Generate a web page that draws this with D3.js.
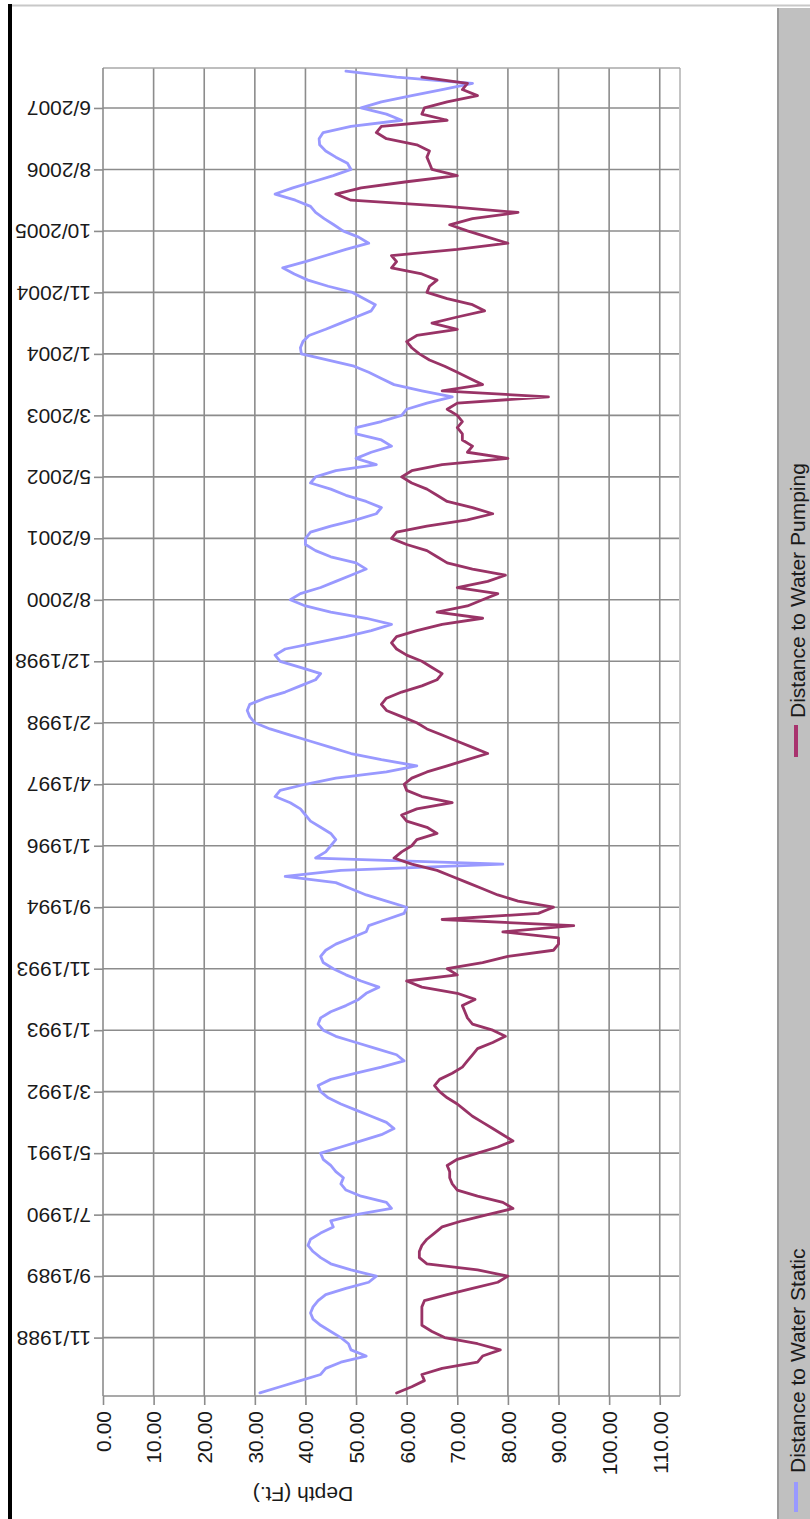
<!DOCTYPE html>
<html>
<head>
<meta charset="utf-8">
<script src="https://cdn.jsdelivr.net/npm/d3@7"></script>
<style>
  html, body { margin: 0; padding: 0; background: #fff; }
  svg { display: block; }
  text { font-family: "Liberation Sans", Arial, sans-serif; fill: #1a1a1a; }
</style>
</head>
<body>
<svg id="chart" width="810" height="1519"></svg>
<script>
// Category labels shown on the date axis (one every `labelEvery` readings)
const dateLabels = ["11/1988", "9/1989", "7/1990", "5/1991", "3/1992", "1/1993", "11/1993",
  "9/1994", "1/1996", "4/1997", "2/1998", "12/1998", "8/2000", "6/2001", "5/2002",
  "3/2003", "1/2004", "11/2004", "10/2005", "8/2006", "6/2007"];
const firstLabelIndex = 9;
const labelEvery = 10;

// Depth axis ticks (ft)
const depthTicks = [0, 10, 20, 30, 40, 50, 60, 70, 80, 90, 100, 110];
const depthMax = 114;

// Distance to water, static level (ft), one value per reading, oldest first
const staticDepth = [
  31, 35, 39, 43, 44, 47, 52, 49, 48.5, 47,
  45, 43, 41.5, 41, 41.5, 42.5, 44, 48, 52.5, 54,
  49, 45, 43, 41.5, 40.5, 41, 43, 45.5, 45, 50,
  57, 56, 51, 48, 47, 47.5, 46, 45, 43.5, 43,
  47, 51, 55, 57.5, 56, 53, 50, 47, 44.5, 43,
  42.5, 45, 50, 55, 59.5, 58, 54, 50, 46, 43.5,
  42.5, 43, 45, 48, 50.5, 52, 54.5, 51, 48, 45.5,
  43.5, 43, 44, 46, 49, 52, 52.5, 56, 59.5, 60,
  56, 52, 49, 46, 36, 47, 79, 42, 44, 45,
  46, 45, 43, 41, 40, 39, 37, 34, 35, 40,
  46, 56, 62, 55, 49, 45, 41, 37, 33, 30,
  29, 28.5, 29, 32, 36, 39, 42, 43, 39, 35,
  34, 36, 42, 48, 53, 57, 52, 45, 40, 37,
  39, 43, 46, 49, 52, 50, 45, 42, 40, 40,
  41, 45, 50, 54, 55, 52, 48, 45, 41, 42,
  46, 54, 50, 53, 57, 55, 50, 50, 55, 59,
  60, 64, 69, 63, 57.5, 55, 52.5, 49.6, 44.5, 39.2,
  39, 39.5, 40.7, 44, 47, 50, 53, 53.8, 51.5, 49.3,
  44.5, 40.5, 37.8, 35.5, 40, 44, 48, 52.5, 50.5, 47.4,
  45.6, 43.7, 42, 41, 38, 34, 37.5, 41.5, 45.5, 49,
  48.3, 46, 44, 42.8, 42.7, 43.5, 49, 59, 56, 51,
  55, 61, 67, 73, 58, 48
];

// Distance to water while pumping (ft), same readings
const pumpingDepth = [
  58, 61, 63.5, 63, 67, 74, 75, 78.5, 74, 67.5,
  65, 63, 63, 63, 63, 63.5, 68, 73, 78, 80,
  74, 64, 62.5, 62.5, 63, 64, 65.5, 67, 71, 76,
  81, 79, 74, 70, 69, 68.5, 68.5, 68, 70, 74,
  78, 81, 79, 77, 75, 73, 71.5, 70, 68, 66.5,
  65.5, 66.5, 69, 71, 72, 73, 74, 77, 79.5, 77,
  73, 72, 71.5, 71, 73.5, 70, 63, 60, 70, 68,
  75, 80, 89, 90, 90, 79, 93, 67, 86, 89,
  82, 78, 75, 72, 69, 66, 61, 57.5, 59, 61,
  62, 66, 64, 60, 59, 62, 69, 63, 60, 59.5,
  61, 64, 68, 72, 76, 73, 70, 67, 64, 62,
  59, 56, 55, 56, 59, 63, 66, 67, 65, 63,
  60, 58, 57, 58, 62, 67, 75, 66, 72, 75,
  78, 70, 76, 79.5, 73, 68, 66, 64, 60, 57,
  58, 64, 72, 77, 73, 68, 66, 64, 61, 59,
  61, 67, 80, 72, 73, 71, 71, 70, 71, 70,
  68, 70, 88, 67, 75, 72.5, 70, 67.5, 64.5, 62.5,
  61, 60, 62, 70, 65, 70, 75.4, 73, 68, 64,
  64.5, 66, 63, 57, 58, 57, 70, 80, 76, 72,
  68.5, 73, 82, 68, 49, 46, 51, 60, 70, 65,
  64.5, 64, 64.5, 62, 56, 54, 55, 68, 63, 63.5,
  68, 74, 71, 72, 63, null
];

const seriesInfo = [
  { name: "Distance to Water Static", values: staticDepth, color: "#9999ff", legendColor: "#9999ff" },
  { name: "Distance to Water Pumping", values: pumpingDepth, color: "#993366", legendColor: "#a8336e" }
];

const svg = d3.select("#chart");
const W = 810, H = 1519;

// frame decorations
svg.append("rect").attr("x", 0).attr("y", 0).attr("width", W).attr("height", H).attr("fill", "#fff");
svg.append("line").attr("x1", 12).attr("x2", W).attr("y1", 5.5).attr("y2", 5.5)
  .attr("stroke", "#c8c8c8").attr("stroke-width", 2);
svg.append("rect").attr("x", 8).attr("y", 4).attr("width", 4).attr("height", H - 4).attr("fill", "#000");

// plot area
const plot = { left: 103, right: 680, top: 68, bottom: 1396 };
const n = staticDepth.length;

const yScale = d3.scalePoint()
  .domain(d3.range(n))
  .range([plot.bottom, plot.top])
  .padding(0.5);

const xScale = d3.scaleLinear()
  .domain([0, depthMax])
  .range([plot.left, plot.right]);

const labelIdx = dateLabels.map((d, j) => firstLabelIndex + j * labelEvery);

// grid
const grid = svg.append("g").attr("stroke", "#8c8c8c").attr("stroke-width", 1.6);
grid.selectAll("line.v").data(depthTicks.slice(1)).join("line")
  .attr("class", "v")
  .attr("x1", d => xScale(d)).attr("x2", d => xScale(d))
  .attr("y1", plot.top).attr("y2", plot.bottom);
grid.selectAll("line.h").data(labelIdx).join("line")
  .attr("class", "h")
  .attr("x1", plot.left).attr("x2", plot.right)
  .attr("y1", d => yScale(d)).attr("y2", d => yScale(d));

// plot border
svg.append("line").attr("x1", plot.right).attr("x2", plot.right).attr("y1", plot.top).attr("y2", plot.bottom)
  .attr("stroke", "#c4c4c4").attr("stroke-width", 2);
svg.append("line").attr("x1", plot.left).attr("x2", plot.right).attr("y1", plot.top).attr("y2", plot.top)
  .attr("stroke", "#a8a8a8").attr("stroke-width", 1.6);
svg.append("line").attr("x1", plot.left).attr("x2", plot.left).attr("y1", plot.top).attr("y2", plot.bottom)
  .attr("stroke", "#8c8c8c").attr("stroke-width", 1.6);
svg.append("line").attr("x1", plot.left).attr("x2", plot.right).attr("y1", plot.bottom).attr("y2", plot.bottom)
  .attr("stroke", "#8c8c8c").attr("stroke-width", 1.6);

// date axis (left)
const dateAxis = svg.append("g")
  .attr("transform", `translate(${plot.left},0)`)
  .call(d3.axisLeft(yScale)
    .tickValues(labelIdx)
    .tickFormat(i => dateLabels[(i - firstLabelIndex) / labelEvery])
    .tickSize(9).tickPadding(0));
dateAxis.select(".domain").remove();
dateAxis.selectAll(".tick line").attr("stroke", "#8c8c8c").attr("stroke-width", 1.6);
dateAxis.selectAll(".tick text")
  .attr("x", null).attr("dy", "0.35em")
  .attr("transform", "translate(-12,0) rotate(180)")
  .attr("text-anchor", "start")
  .style("font-size", "21px")
  .style("font-family", "'Liberation Sans', Arial, sans-serif")
  .attr("fill", "#1a1a1a");

// depth axis (bottom)
const depthAxis = svg.append("g")
  .attr("transform", `translate(0,${plot.bottom})`)
  .call(d3.axisBottom(xScale)
    .tickValues(depthTicks)
    .tickFormat(d3.format(".2f"))
    .tickSize(9).tickPadding(0));
depthAxis.select(".domain").remove();
depthAxis.selectAll(".tick line").attr("stroke", "#8c8c8c").attr("stroke-width", 1.6);
depthAxis.selectAll(".tick text")
  .attr("y", null).attr("dy", "0.35em")
  .attr("transform", "translate(0,15) rotate(-90)")
  .attr("text-anchor", "end")
  .style("font-size", "21px")
  .style("font-family", "'Liberation Sans', Arial, sans-serif")
  .attr("fill", "#1a1a1a");

// axis title
svg.append("text")
  .attr("transform", "translate(303,1494) rotate(180)")
  .attr("text-anchor", "middle").attr("dy", "0.35em")
  .style("font-size", "21px")
  .text("Depth (Ft.)");

// series lines
const line = d3.line()
  .defined(d => d != null)
  .x(d => xScale(d))
  .y((d, i) => yScale(i));

svg.append("g").selectAll("path").data(seriesInfo).join("path")
  .attr("d", s => line(s.values))
  .attr("fill", "none")
  .attr("stroke", s => s.color)
  .attr("stroke-width", 2.8)
  .attr("stroke-linejoin", "round")
  .attr("stroke-linecap", "round");

// legend panel
svg.append("rect").attr("x", 777).attr("y", 8).attr("width", W - 777).attr("height", H - 8).attr("fill", "#c0c0c0");
svg.append("line").attr("x1", 778).attr("x2", 778).attr("y1", 8).attr("y2", H)
  .attr("stroke", "#9a9a9a").attr("stroke-width", 2);

const legendPos = [
  { markTop: 1482, markBottom: 1512, textStart: 1473 },
  { markTop: 725, markBottom: 757, textStart: 718 }
];
const legend = svg.append("g").selectAll("g").data(seriesInfo).join("g");
legend.append("line")
  .attr("x1", 796).attr("x2", 796)
  .attr("y1", (d, i) => legendPos[i].markBottom)
  .attr("y2", (d, i) => legendPos[i].markTop)
  .attr("stroke", d => d.legendColor).attr("stroke-width", 4);
legend.append("text")
  .attr("transform", (d, i) => `translate(798,${legendPos[i].textStart}) rotate(-90)`)
  .attr("text-anchor", "start").attr("dy", "0.35em")
  .style("font-size", "21px")
  .text(d => d.name);
</script>
</body>
</html>
